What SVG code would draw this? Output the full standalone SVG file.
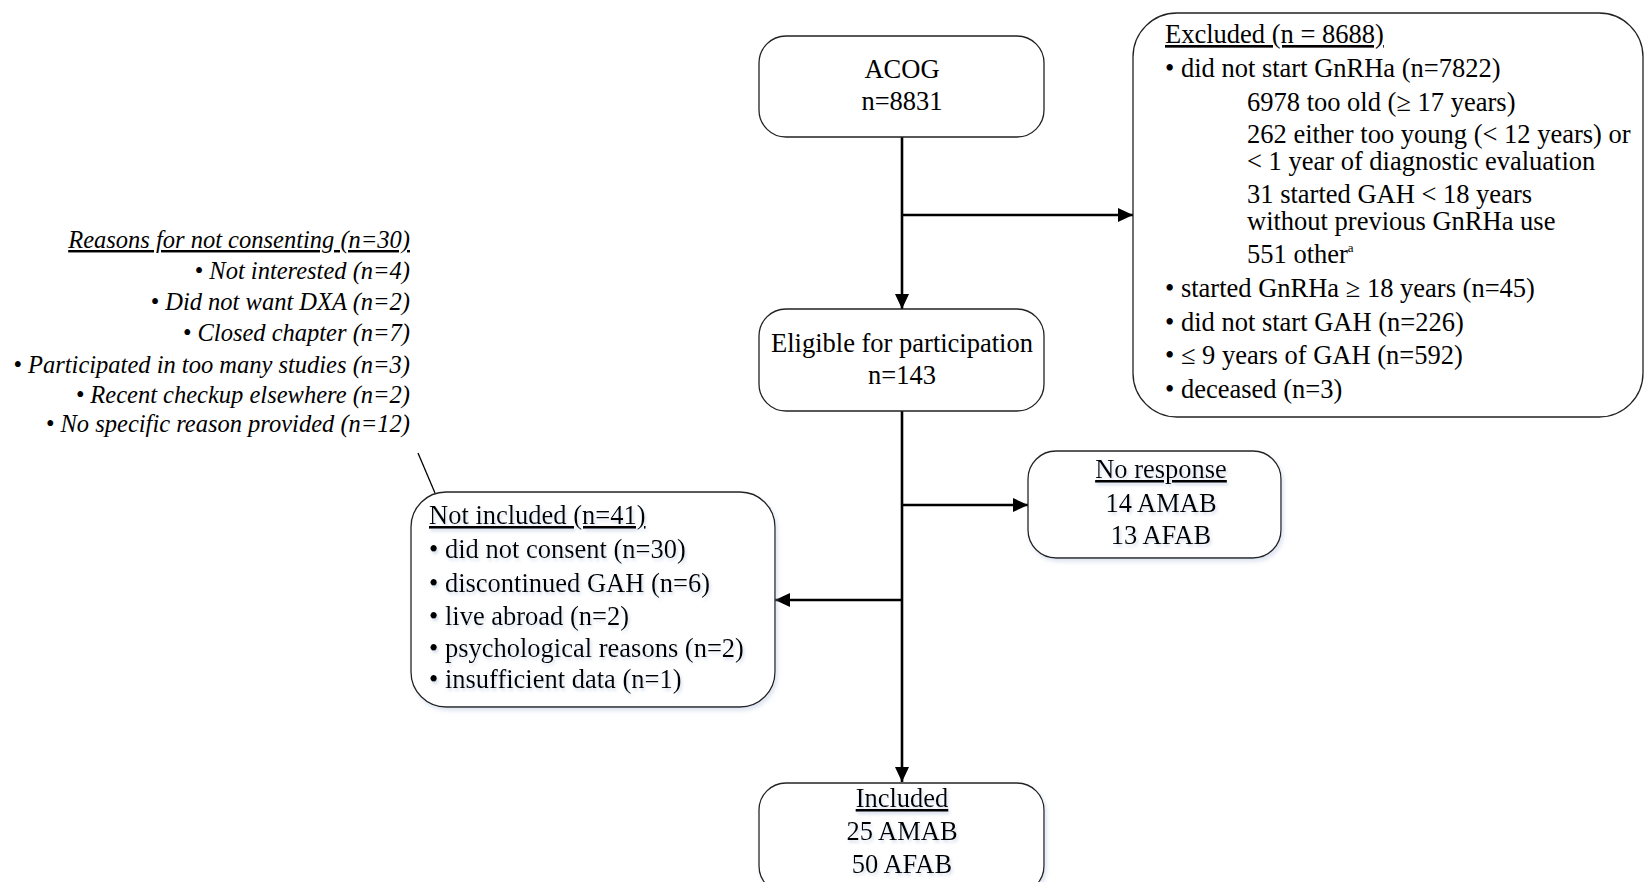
<svg xmlns="http://www.w3.org/2000/svg" width="1644" height="882" viewBox="0 0 1644 882">
<style>
  text { font-family: "Liberation Serif", "Times New Roman", serif; fill: #000; }
  .t { font-size: 26.5px; }
  .c { text-anchor: middle; }
  .u { text-decoration: underline; }
  .it { font-size: 24.5px; font-style: italic; text-anchor: end; }
  .box { fill: #fff; stroke: #222; stroke-width: 1.3; }
  .conn { stroke: #000; stroke-width: 2.6; fill: none; }
  .thin { stroke: #000; stroke-width: 1.3; fill: none; }
  .sh { filter: url(#tshadow); }
</style>
<defs>
  <marker id="arr" markerUnits="userSpaceOnUse" markerWidth="16" markerHeight="15" refX="15" refY="7" orient="auto">
    <path d="M0,0 L15,7 L0,14 z" fill="#000"/>
  </marker>
  <filter id="tshadow" x="-5%" y="-20%" width="115%" height="150%">
    <feDropShadow dx="1.5" dy="2.5" stdDeviation="1.5" flood-color="#9fb3d1" flood-opacity="0.45"/>
  </filter>
  <filter id="bshadow" x="-5%" y="-5%" width="115%" height="115%">
    <feDropShadow dx="2" dy="3" stdDeviation="2" flood-color="#9fb3d1" flood-opacity="0.35"/>
  </filter>
</defs>
<rect width="1644" height="882" fill="#fff"/>

<g id="connectors">
  <line class="conn" x1="902" y1="137" x2="902" y2="309" marker-end="url(#arr)"/>
  <line class="conn" x1="902" y1="215" x2="1133" y2="215" marker-end="url(#arr)"/>
  <line class="conn" x1="902" y1="411" x2="902" y2="782" marker-end="url(#arr)"/>
  <line class="conn" x1="902" y1="505" x2="1028" y2="505" marker-end="url(#arr)"/>
  <line class="conn" x1="902" y1="600" x2="775" y2="600" marker-end="url(#arr)"/>
  <line class="thin" x1="418" y1="453" x2="435" y2="493"/>
</g>

<g id="acog">
  <rect class="box" x="759" y="36" width="285" height="101" rx="27"/>
  <text class="t c" x="902" y="78">ACOG</text>
  <text class="t c" x="902" y="110">n=8831</text>
</g>

<g id="eligible">
  <rect class="box" x="759" y="309" width="285" height="102" rx="27"/>
  <text class="t c" x="902" y="352">Eligible for participation</text>
  <text class="t c" x="902" y="384">n=143</text>
</g>

<g id="excluded">
  <rect class="box" x="1133" y="13" width="510" height="404" rx="44"/>
  <text class="t u" x="1165" y="43">Excluded (n = 8688)</text>
  <text class="t" x="1165" y="77">• did not start GnRHa (n=7822)</text>
  <text class="t" x="1247" y="111">6978 too old (≥ 17 years)</text>
  <text class="t" x="1247" y="143">262 either too young (&lt; 12 years) or</text>
  <text class="t" x="1247" y="170">&lt; 1 year of diagnostic evaluation</text>
  <text class="t" x="1247" y="203">31 started GAH &lt; 18 years</text>
  <text class="t" x="1247" y="230">without previous GnRHa use</text>
  <text class="t" x="1247" y="263">551 other<tspan font-size="13" dy="-11">a</tspan></text>
  <text class="t" x="1165" y="297">• started GnRHa ≥ 18 years (n=45)</text>
  <text class="t" x="1165" y="331">• did not start GAH (n=226)</text>
  <text class="t" x="1165" y="364">• ≤ 9 years of GAH (n=592)</text>
  <text class="t" x="1165" y="398">• deceased (n=3)</text>
</g>

<g id="no-response">
  <rect class="box" x="1028" y="451" width="253" height="107" rx="28" filter="url(#bshadow)"/>
  <g class="sh">
    <text class="t c u" x="1161" y="478">No response</text>
    <text class="t c" x="1161" y="512">14 AMAB</text>
    <text class="t c" x="1161" y="544">13 AFAB</text>
  </g>
</g>

<g id="not-included">
  <rect class="box" x="411" y="492" width="364" height="215" rx="35" filter="url(#bshadow)"/>
  <g class="sh">
    <text class="t u" x="429" y="524">Not included (n=41)</text>
    <text class="t" x="429" y="558">• did not consent (n=30)</text>
    <text class="t" x="429" y="592">• discontinued GAH (n=6)</text>
    <text class="t" x="429" y="625">• live abroad (n=2)</text>
    <text class="t" x="429" y="657">• psychological reasons (n=2)</text>
    <text class="t" x="429" y="688">• insufficient data (n=1)</text>
  </g>
</g>

<g id="included">
  <rect class="box" x="759" y="783" width="285" height="110" rx="27" filter="url(#bshadow)"/>
  <g class="sh">
    <text class="t c u" x="902" y="807">Included</text>
    <text class="t c" x="902" y="840">25 AMAB</text>
    <text class="t c" x="902" y="873">50 AFAB</text>
  </g>
</g>

<g id="reasons">
  <text class="it u" x="410" y="248">Reasons for not consenting (n=30)</text>
  <text class="it" x="410" y="279">• Not interested (n=4)</text>
  <text class="it" x="410" y="310">• Did not want DXA (n=2)</text>
  <text class="it" x="410" y="341">• Closed chapter (n=7)</text>
  <text class="it" x="410" y="373">• Participated in too many studies (n=3)</text>
  <text class="it" x="410" y="403">• Recent checkup elsewhere (n=2)</text>
  <text class="it" x="410" y="432">• No specific reason provided (n=12)</text>
</g>
</svg>
